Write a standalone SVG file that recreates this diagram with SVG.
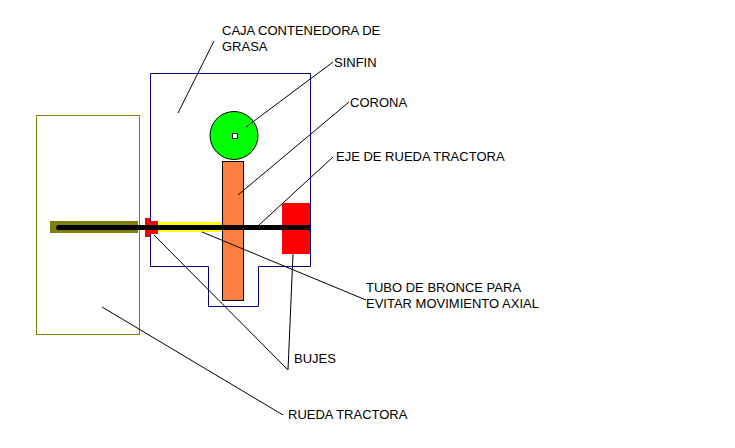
<svg xmlns="http://www.w3.org/2000/svg" width="735" height="448" viewBox="0 0 735 448">
<style>
text{font-family:"Liberation Sans",Arial,sans-serif;font-size:13px;fill:#000}
.l{fill:none;stroke:#000;stroke-width:1}
.o{stroke:#000;stroke-width:1}
</style>
<rect width="735" height="448" fill="#fff"/>
<g id="rueda"><rect x="36.500" y="115.500" width="103" height="219" fill="none" stroke="#808000"/></g>
<g id="caja"><path d="M150.500 73.500H310.500V266.500H258.500V306.500H208.500V266.500H150.500Z" fill="none" stroke="#000080"/></g>
<g id="tubo"><rect x="150" y="222" width="73" height="10" fill="#ffff00"/></g>
<g id="cubo"><rect x="50" y="221" width="88" height="12" fill="#808000"/></g>
<g id="buje-izq"><path d="M145 218H150V221H158V234H150V237H145Z" fill="#ff0000"/></g>
<g id="buje-der"><rect x="282" y="203" width="28" height="51" fill="#ff0000"/></g>
<g id="sinfin"><circle cx="234" cy="135.500" r="24" fill="#00ff00" class="o"/><rect x="232.500" y="133.500" width="5" height="5" fill="#fff" class="o"/></g>
<g id="corona"><rect x="222.500" y="161.500" width="21" height="139" fill="#ff8040" class="o"/></g>
<g id="eje"><path d="M310 225H58.500A2.500 2.500 0 0 0 58.500 230H310Z" fill="#000"/></g>
<g id="connectors">
<line class="l" x1="214" y1="41" x2="178" y2="113"/>
<line class="l" x1="333" y1="62" x2="246" y2="127"/>
<line class="l" x1="349" y1="102" x2="238" y2="195"/>
<line class="l" x1="333" y1="157" x2="259" y2="225"/>
<line class="l" x1="366" y1="300" x2="202" y2="232"/>
<line class="l" x1="293" y1="254" x2="288" y2="370"/>
<line class="l" x1="288" y1="370" x2="154" y2="235"/>
<line class="l" x1="283" y1="415" x2="102" y2="307"/>
</g>
<g id="labels">
<text x="222" y="35">CAJA CONTENEDORA DE</text>
<text x="222" y="51">GRASA</text>
<text x="334" y="67">SINFIN</text>
<text x="350" y="107">CORONA</text>
<text x="336" y="161">EJE DE RUEDA TRACTORA</text>
<text x="366" y="292">TUBO DE BRONCE PARA</text>
<text x="366" y="308">EVITAR MOVIMIENTO AXIAL</text>
<text x="294" y="363">BUJES</text>
<text x="288" y="419">RUEDA TRACTORA</text>
</g>
</svg>
